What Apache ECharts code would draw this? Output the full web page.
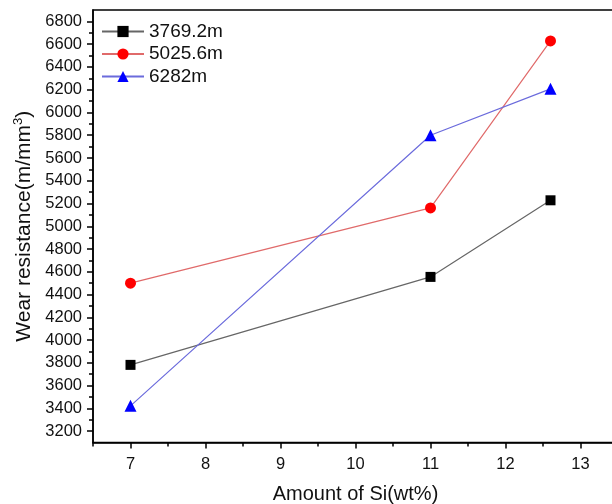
<!DOCTYPE html>
<html>
<head>
<meta charset="utf-8">
<script src="https://cdn.jsdelivr.net/npm/echarts@6/dist/echarts.min.js"></script>
<style>
html,body{margin:0;padding:0;background:#fff;}
#chart{width:612px;height:504px;}
</style>
</head>
<body>
<div id="chart"></div>
<script>
const xValues = [7, 11, 12.6];
const seriesNames = ['3769.2m', '5025.6m', '6282m'];
const valuesA = [3782, 4555, 5228];
const valuesB = [4500, 5161, 6628];
const valuesC = [3422, 5800, 6207];
const yTickLabels = [3200, 3400, 3600, 3800, 4000, 4200, 4400, 4600, 4800, 5000, 5200, 5400, 5600, 5800, 6000, 6200, 6400, 6600, 6800];
const yMinorTicks = [3300, 3500, 3700, 3900, 4100, 4300, 4500, 4700, 4900, 5100, 5300, 5500, 5700, 5900, 6100, 6300, 6500, 6700];
const xTickLabels = [7, 8, 9, 10, 11, 12, 13];
const xMinorTicks = [6.5, 7.5, 8.5, 9.5, 10.5, 11.5, 12.5, 13.5];

const FONT = 'Liberation Sans, Arial, sans-serif';
const chart = echarts.init(document.getElementById('chart'), null, {renderer: 'canvas'});

function pairs(vals) { return xValues.map((x, i) => [x, vals[i]]); }

const axisLineStyle = {color: '#000', width: 1.5};

chart.setOption({
  animation: false,
  backgroundColor: '#fff',
  grid: {
    left: 93, right: -6, top: 10, bottom: 61.5,
    show: true, borderColor: '#000', borderWidth: 1.5,
    outerBoundsMode: 'none', containLabel: false
  },
  legend: {
    orient: 'vertical',
    left: 101, top: 22, padding: 0,
    itemWidth: 42, itemHeight: 14, itemGap: 3.5,
    textStyle: {fontFamily: FONT, fontSize: 19, lineHeight: 19, color: '#111'},
    data: seriesNames
  },
  xAxis: [
    {
      type: 'value', position: 'bottom', min: 6.5, max: 13.5,
      name: 'Amount of Si(wt%)', nameLocation: 'middle', nameGap: 42,
      nameTextStyle: {fontFamily: FONT, fontSize: 20, color: '#111'},
      axisLine: {show: true, onZero: false, lineStyle: axisLineStyle},
      axisTick: {show: true, inside: false, length: 6, lineStyle: {color: '#000', width: 1.5}, customValues: xTickLabels},
      axisLabel: {show: true, margin: 13, fontFamily: FONT, fontSize: 16.5, color: '#111', customValues: xTickLabels,
        formatter: v => String(v)},
      splitLine: {show: false}
    },
    {
      type: 'value', position: 'bottom', min: 6.5, max: 13.5,
      axisLine: {show: false, onZero: false},
      axisTick: {show: true, inside: false, length: 4, lineStyle: {color: '#000', width: 1.5}, customValues: xMinorTicks},
      axisLabel: {show: false},
      splitLine: {show: false}
    }
  ],
  yAxis: [
    {
      type: 'value', position: 'left', min: 3100, max: 6900,
      name: 'Wear resistance(m/mm{sup|3})', nameLocation: 'middle', nameGap: 50,
      nameRotate: 90,
      nameTextStyle: {fontFamily: FONT, fontSize: 21, color: '#111',
        rich: {sup: {fontFamily: FONT, fontSize: 13, color: '#111', verticalAlign: 'top', padding: [0, 0, 10, 0]}}},
      axisLine: {show: true, onZero: false, lineStyle: axisLineStyle},
      axisTick: {show: true, inside: false, length: 6, lineStyle: {color: '#000', width: 1.5}, customValues: yTickLabels},
      axisLabel: {show: true, margin: 11, fontFamily: FONT, fontSize: 16.5, color: '#111', customValues: yTickLabels,
        formatter: v => String(v)},
      splitLine: {show: false}
    },
    {
      type: 'value', position: 'left', min: 3100, max: 6900,
      axisLine: {show: false, onZero: false},
      axisTick: {show: true, inside: false, length: 4, lineStyle: {color: '#000', width: 1.5}, customValues: yMinorTicks},
      axisLabel: {show: false},
      splitLine: {show: false}
    }
  ],
  series: [
    {
      name: seriesNames[0], type: 'line', xAxisIndex: 0, yAxisIndex: 0,
      data: pairs(valuesA),
      symbol: 'rect', symbolSize: 10,
      itemStyle: {color: '#000'},
      lineStyle: {color: '#666', width: 1.2}
    },
    {
      name: seriesNames[1], type: 'line', xAxisIndex: 0, yAxisIndex: 0,
      data: pairs(valuesB),
      symbol: 'circle', symbolSize: 11,
      itemStyle: {color: '#ff0000'},
      lineStyle: {color: '#e06a6a', width: 1.2}
    },
    {
      name: seriesNames[2], type: 'line', xAxisIndex: 0, yAxisIndex: 0,
      data: pairs(valuesC),
      symbol: 'triangle', symbolSize: 12,
      itemStyle: {color: '#0000ff'},
      lineStyle: {color: '#6b6bdc', width: 1.2}
    }
  ]
});
</script>
</body>
</html>
